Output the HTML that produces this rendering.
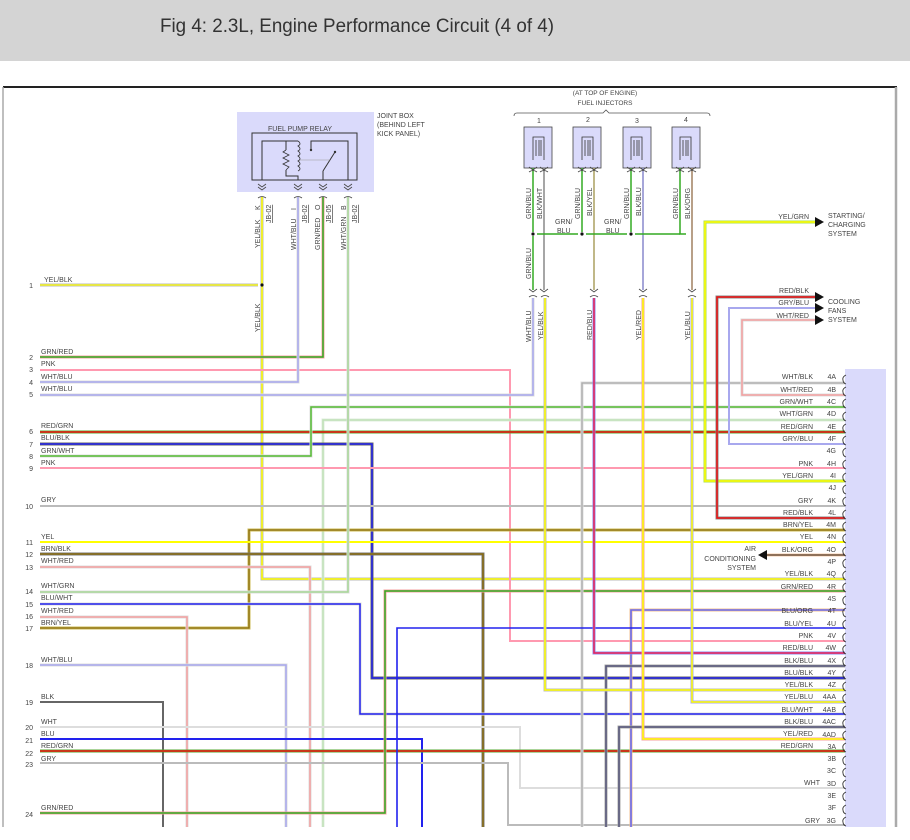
<!DOCTYPE html>
<html><head><meta charset="utf-8"><style>
html,body{margin:0;padding:0;background:#fff;width:910px;height:840px;overflow:hidden}
svg{display:block}
text{font-family:"Liberation Sans",sans-serif;fill:#444}
</style></head><body>
<svg width="910" height="840" viewBox="0 0 910 840" xmlns="http://www.w3.org/2000/svg">
<rect x="0" y="0" width="910" height="61" fill="#d4d4d4"/>
<text x="160" y="32" font-size="19" textLength="394" lengthAdjust="spacingAndGlyphs" style="fill:#333">Fig 4: 2.3L, Engine Performance Circuit (4 of 4)</text>
<line x1="3" y1="87" x2="897" y2="87" stroke="#222" stroke-width="2"/>
<line x1="3" y1="87" x2="3" y2="840" stroke="#aaa" stroke-width="1.5"/>
<line x1="896" y1="87" x2="896" y2="840" stroke="#aaa" stroke-width="2.5"/>

<rect x="845" y="369" width="41" height="471" fill="#dadafb"/>

<rect x="237" y="112" width="137" height="80" fill="#dadafb"/>
<rect x="252" y="133" width="105" height="47" fill="none" stroke="#333" stroke-width="1"/>
<text x="268" y="131" font-size="7">FUEL PUMP RELAY</text>
<polyline points="262,180 262,141 286,141 286,150" fill="none" stroke="#333" stroke-width="1"/>
<polyline points="286,170 286,176 298,176 298,180" fill="none" stroke="#333" stroke-width="1"/>
<path d="M286,150 l-3,2 6,3 -6,3 6,3 -6,3 6,3 -3,3" fill="none" stroke="#333" stroke-width="0.8"/>
<path d="M298,141 q4,3 0,5 q4,3 0,5 q4,3 0,5 q4,3 0,5 q4,3 0,5 q4,3 0,5" fill="none" stroke="#333" stroke-width="0.8"/>
<polyline points="286,141 298,141" stroke="#333"/>
<polyline points="311,150 311,141 348,141 348,180" fill="none" stroke="#333" stroke-width="1"/>
<line x1="323" y1="180" x2="323" y2="171" stroke="#333"/>
<line x1="323" y1="171" x2="335" y2="152" stroke="#333"/>
<line x1="300" y1="160" x2="330" y2="160" stroke="#999" stroke-width="0.5"/>
<circle cx="311" cy="150" r="1.2" fill="#333"/><circle cx="335" cy="152" r="1.2" fill="#333"/>
<text x="377" y="118" font-size="7">JOINT BOX</text>
<text x="377" y="127" font-size="7">(BEHIND LEFT</text>
<text x="377" y="136" font-size="7">KICK PANEL)</text>

<text x="605" y="95" font-size="6.5" text-anchor="middle">(AT TOP OF ENGINE)</text>
<text x="605" y="105" font-size="6.5" text-anchor="middle">FUEL INJECTORS</text>
<path d="M514,116 q0,-3 3,-3 L603,113 l3,-3 3,3 L707,113 q3,0 3,3" fill="none" stroke="#555" stroke-width="0.8"/>
<g font-size="7">
<text x="539" y="123" text-anchor="middle">1</text><text x="588" y="122" text-anchor="middle">2</text>
<text x="637" y="123" text-anchor="middle">3</text><text x="686" y="122" text-anchor="middle">4</text>
</g>
<g fill="#dadafb" stroke="#444" stroke-width="0.8">
<rect x="524" y="127" width="28" height="41"/><rect x="573" y="127" width="28" height="41"/>
<rect x="623" y="127" width="28" height="41"/><rect x="672" y="127" width="28" height="41"/>
</g>
<g fill="none" stroke="#333" stroke-width="0.8">
<path d="M533,160 v-23 h11 v23 M536,140 v16 M539,140 v16 M541,140 v16"/>
<path d="M582,160 v-23 h11 v23 M585,140 v16 M588,140 v16 M590,140 v16"/>
<path d="M631,160 v-23 h11 v23 M634,140 v16 M637,140 v16 M639,140 v16"/>
<path d="M680,160 v-23 h11 v23 M683,140 v16 M686,140 v16 M688,140 v16"/>
</g>

<g fill="none" stroke-linejoin="miter">
<polyline points="533,168 533,232" stroke="#33aa22" stroke-width="1.5"/>
<polyline points="533,236 533,290" stroke="#33aa22" stroke-width="1.5"/>
<polyline points="544,168 544,290" stroke="#888" stroke-width="1.5"/>
<polyline points="582,168 582,232" stroke="#33aa22" stroke-width="1.5"/>
<polyline points="594,168 594,290" stroke="#aaa060" stroke-width="1.5"/>
<polyline points="631,168 631,232" stroke="#33aa22" stroke-width="1.5"/>
<polyline points="643,168 643,290" stroke="#8888cc" stroke-width="1.5"/>
<polyline points="680,168 680,234 686,234" stroke="#33aa22" stroke-width="1.5"/>
<polyline points="692,168 692,290" stroke="#a08060" stroke-width="1.5"/>
<line x1="537" y1="234" x2="578" y2="234" stroke="#33aa22" stroke-width="1.5"/>
<line x1="586" y1="234" x2="627" y2="234" stroke="#33aa22" stroke-width="1.5"/>
<line x1="635" y1="234" x2="680" y2="234" stroke="#33aa22" stroke-width="1.5"/>

<polyline points="262,197 262,579 845,579" stroke="#bbb" stroke-width="3"/>
<polyline points="262,197 262,579 845,579" stroke="#ffff00" stroke-width="1.5"/>
<polyline points="40,285 258,285" stroke="#bbb" stroke-width="3"/>
<polyline points="40,285 258,285" stroke="#ffff00" stroke-width="1.3"/>
<polyline points="40,357 323,357 323,197" stroke="#f4a0a0" stroke-width="3"/>
<polyline points="40,357 323,357 323,197" stroke="#33aa22" stroke-width="1.5"/>
<polyline points="40,370 510,370 510,641 845,641" stroke="#ff99b0" stroke-width="2"/>
<polyline points="40,382 298,382 298,197" stroke="#ddd" stroke-width="3"/>
<polyline points="40,382 298,382 298,197" stroke="#a8a8ee" stroke-width="1.5"/>
<polyline points="40,395 533,395 533,298" stroke="#ddd" stroke-width="3"/>
<polyline points="40,395 533,395 533,298" stroke="#a8a8ee" stroke-width="1.5"/>
<polyline points="845,420 323,420 323,840" stroke="#dfeedd" stroke-width="3"/>
<polyline points="845,420 323,420 323,840" stroke="#c0e0b8" stroke-width="1.5"/>
<polyline points="40,432 845,432" stroke="#55aa33" stroke-width="3"/>
<polyline points="40,432 845,432" stroke="#ee1111" stroke-width="1.5"/>
<polyline points="40,444 372,444 372,678 845,678" stroke="#666" stroke-width="3"/>
<polyline points="40,444 372,444 372,678 845,678" stroke="#2222ee" stroke-width="1.5"/>
<polyline points="40,456 311,456 311,407 845,407" stroke="#ddd" stroke-width="3"/>
<polyline points="40,456 311,456 311,407 845,407" stroke="#55bb33" stroke-width="1.5"/>
<polyline points="40,468 845,468" stroke="#ff99b0" stroke-width="2"/>
<polyline points="40,506 845,506" stroke="#bbb" stroke-width="2"/>
<polyline points="845,530 249,530 249,628 40,628" stroke="#ccbb55" stroke-width="3"/>
<polyline points="845,530 249,530 249,628 40,628" stroke="#8a6d10" stroke-width="1.3"/>
<polyline points="40,542 845,542" stroke="#ffff00" stroke-width="2"/>
<polyline points="40,554 483,554 483,840" stroke="#777" stroke-width="3"/>
<polyline points="40,554 483,554 483,840" stroke="#8a6d10" stroke-width="1.5"/>
<polyline points="40,567 310,567 310,840" stroke="#ddd" stroke-width="3"/>
<polyline points="40,567 310,567 310,840" stroke="#f4a0a0" stroke-width="1.5"/>
<polyline points="40,592 348,592 348,197" stroke="#ddd" stroke-width="3"/>
<polyline points="40,592 348,592 348,197" stroke="#a8d898" stroke-width="1.5"/>
<polyline points="40,604 360,604 360,714 845,714" stroke="#ddd" stroke-width="3"/>
<polyline points="40,604 360,604 360,714 845,714" stroke="#2222ee" stroke-width="1.5"/>
<polyline points="40,617 187,617 187,840" stroke="#ddd" stroke-width="3"/>
<polyline points="40,617 187,617 187,840" stroke="#f4a0a0" stroke-width="1.5"/>
<polyline points="40,665 286,665 286,840" stroke="#ddd" stroke-width="3"/>
<polyline points="40,665 286,665 286,840" stroke="#a8a8ee" stroke-width="1.5"/>
<polyline points="40,702 163,702 163,840" stroke="#666" stroke-width="2"/>
<polyline points="40,727 520,727 520,788 845,788" stroke="#ddd" stroke-width="2"/>
<polyline points="40,739 422,739 422,840" stroke="#2222ee" stroke-width="2"/>
<polyline points="40,751 845,751" stroke="#55aa33" stroke-width="3"/>
<polyline points="40,751 845,751" stroke="#ee1111" stroke-width="1.5"/>
<polyline points="40,763 508,763 508,825 845,825" stroke="#bbb" stroke-width="2"/>
<polyline points="40,813 385,813 385,591 845,591" stroke="#f4a0a0" stroke-width="3"/>
<polyline points="40,813 385,813 385,591 845,591" stroke="#33aa22" stroke-width="1.5"/>
<polyline points="845,383 582,383 582,840" stroke="#ddd" stroke-width="3"/>
<polyline points="845,383 582,383 582,840" stroke="#aaa" stroke-width="1.3"/>
<polyline points="845,395 742,395 742,320 815,320" stroke="#ddd" stroke-width="3"/>
<polyline points="845,395 742,395 742,320 815,320" stroke="#f4a0a0" stroke-width="1.5"/>
<polyline points="845,444 729,444 729,308 815,308" stroke="#a8a8ee" stroke-width="2"/>
<polyline points="845,481 705,481 705,222 815,222" stroke="#aadd55" stroke-width="3"/>
<polyline points="845,481 705,481 705,222 815,222" stroke="#ffff00" stroke-width="1.5"/>
<polyline points="845,518 717,518 717,297 815,297" stroke="#888" stroke-width="3"/>
<polyline points="845,518 717,518 717,297 815,297" stroke="#ee1111" stroke-width="1.5"/>
<polyline points="845,555 765,555" stroke="#f0a060" stroke-width="2.5"/>
<polyline points="845,555 765,555" stroke="#555" stroke-width="1.2"/>
<polyline points="845,610 631,610 631,840" stroke="#f0c090" stroke-width="3"/>
<polyline points="845,610 631,610 631,840" stroke="#6a6aee" stroke-width="1.6"/>
<polyline points="845,628 397,628 397,840" stroke="#2222ee" stroke-width="1.6"/>
<polyline points="845,653 594,653 594,298" stroke="#8888ee" stroke-width="3"/>
<polyline points="845,653 594,653 594,298" stroke="#ee2255" stroke-width="1.5"/>
<polyline points="845,666 606,666 606,840" stroke="#aaa" stroke-width="3"/>
<polyline points="845,666 606,666 606,840" stroke="#55557a" stroke-width="1.5"/>
<polyline points="845,690 545,690 545,298" stroke="#bbb" stroke-width="3"/>
<polyline points="845,690 545,690 545,298" stroke="#ffff00" stroke-width="1.5"/>
<polyline points="845,702 692,702 692,298" stroke="#a8a8ee" stroke-width="3"/>
<polyline points="845,702 692,702 692,298" stroke="#ffff00" stroke-width="1.5"/>
<polyline points="845,727 619,727 619,840" stroke="#aaa" stroke-width="3"/>
<polyline points="845,727 619,727 619,840" stroke="#55557a" stroke-width="1.5"/>
<polyline points="845,739 643,739 643,298" stroke="#f4a0a0" stroke-width="3"/>
<polyline points="845,739 643,739 643,298" stroke="#ffff00" stroke-width="1.5"/>
</g>

<g fill="#111">
<circle cx="262" cy="285" r="1.6"/><circle cx="533" cy="234" r="1.6"/>
<circle cx="582" cy="234" r="1.6"/><circle cx="631" cy="234" r="1.6"/>
</g>
<g fill="none" stroke="#444" stroke-width="0.8">
<path d="M258,184 l4,3 4,-3 M258,187 l4,3 4,-3 M294,184 l4,3 4,-3 M294,187 l4,3 4,-3 M319,184 l4,3 4,-3 M319,187 l4,3 4,-3 M344,184 l4,3 4,-3 M344,187 l4,3 4,-3"/>
<path d="M258,198 q4,-3 8,0 M294,198 q4,-3 8,0 M319,198 q4,-3 8,0 M344,198 q4,-3 8,0"/>
<path d="M529,167 l4,3 4,-3 M540,167 l4,3 4,-3 M578,167 l4,3 4,-3 M590,167 l4,3 4,-3 M627,167 l4,3 4,-3 M639,167 l4,3 4,-3 M676,167 l4,3 4,-3 M688,167 l4,3 4,-3"/>
<path d="M529,172 q4,-3 8,0 M540,172 q4,-3 8,0 M578,172 q4,-3 8,0 M590,172 q4,-3 8,0 M627,172 q4,-3 8,0 M639,172 q4,-3 8,0 M676,172 q4,-3 8,0 M688,172 q4,-3 8,0"/>
<path d="M529,289 l4,3 4,-3 M540,289 l4,3 4,-3 M590,289 l4,3 4,-3 M639,289 l4,3 4,-3 M688,289 l4,3 4,-3"/>
<path d="M529,297 q4,-3 8,0 M541,297 q4,-3 8,0 M590,297 q4,-3 8,0 M639,297 q4,-3 8,0 M688,297 q4,-3 8,0"/>
</g>
<g fill="#111">
<polygon points="815,217 824,222 815,227"/>
<polygon points="815,292 824,297 815,302"/>
<polygon points="815,303 824,308 815,313"/>
<polygon points="815,315 824,320 815,325"/>
<polygon points="767,550 758,555 767,560"/>
</g>
<g font-size="7">
<text x="828" y="218">STARTING/</text><text x="828" y="227">CHARGING</text><text x="828" y="236">SYSTEM</text>
<text x="828" y="304">COOLING</text><text x="828" y="313">FANS</text><text x="828" y="322">SYSTEM</text>
<text x="809" y="219" text-anchor="end">YEL/GRN</text>
<text x="809" y="293" text-anchor="end">RED/BLK</text>
<text x="809" y="305" text-anchor="end">GRY/BLU</text>
<text x="809" y="318" text-anchor="end">WHT/RED</text>
<text x="756" y="551" text-anchor="end">AIR</text>
<text x="756" y="561" text-anchor="end">CONDITIONING</text>
<text x="756" y="570" text-anchor="end">SYSTEM</text>
</g>

<g fill="none" stroke="#333" stroke-width="0.9">
<path d="M846,375 q-4,2 -3,5 q0,3 3,4 M846,387 q-4,2 -3,5 q0,3 3,4 M846,399 q-4,2 -3,5 q0,3 3,4 M846,412 q-4,2 -3,5 q0,3 3,4 M846,424 q-4,2 -3,5 q0,3 3,4 M846,436 q-4,2 -3,5 q0,3 3,4 M846,448 q-4,2 -3,5 q0,3 3,4 M846,460 q-4,2 -3,5 q0,3 3,4 M846,473 q-4,2 -3,5 q0,3 3,4 M846,485 q-4,2 -3,5 q0,3 3,4 M846,497 q-4,2 -3,5 q0,3 3,4 M846,510 q-4,2 -3,5 q0,3 3,4 M846,522 q-4,2 -3,5 q0,3 3,4 M846,534 q-4,2 -3,5 q0,3 3,4 M846,547 q-4,2 -3,5 q0,3 3,4 M846,559 q-4,2 -3,5 q0,3 3,4 M846,571 q-4,2 -3,5 q0,3 3,4 M846,583 q-4,2 -3,5 q0,3 3,4 M846,596 q-4,2 -3,5 q0,3 3,4 M846,608 q-4,2 -3,5 q0,3 3,4 M846,620 q-4,2 -3,5 q0,3 3,4 M846,633 q-4,2 -3,5 q0,3 3,4 M846,645 q-4,2 -3,5 q0,3 3,4 M846,657 q-4,2 -3,5 q0,3 3,4 M846,670 q-4,2 -3,5 q0,3 3,4 M846,682 q-4,2 -3,5 q0,3 3,4 M846,694 q-4,2 -3,5 q0,3 3,4 M846,706 q-4,2 -3,5 q0,3 3,4 M846,719 q-4,2 -3,5 q0,3 3,4 M846,731 q-4,2 -3,5 q0,3 3,4 M846,743 q-4,2 -3,5 q0,3 3,4 M846,756 q-4,2 -3,5 q0,3 3,4 M846,768 q-4,2 -3,5 q0,3 3,4 M846,780 q-4,2 -3,5 q0,3 3,4 M846,792 q-4,2 -3,5 q0,3 3,4 M846,805 q-4,2 -3,5 q0,3 3,4 M846,817 q-4,2 -3,5 q0,3 3,4"/>
</g>

<g font-size="7">
<g text-anchor="end">
<text x="813" y="379">WHT/BLK</text><text x="813" y="392">WHT/RED</text><text x="813" y="404">GRN/WHT</text>
<text x="813" y="416">WHT/GRN</text><text x="813" y="429">RED/GRN</text><text x="813" y="441">GRY/BLU</text>
<text x="813" y="466">PNK</text><text x="813" y="478">YEL/GRN</text>
<text x="813" y="503">GRY</text><text x="813" y="515">RED/BLK</text><text x="813" y="527">BRN/YEL</text>
<text x="813" y="539">YEL</text><text x="813" y="552">BLK/ORG</text><text x="813" y="576">YEL/BLK</text>
<text x="813" y="589">GRN/RED</text><text x="813" y="613">BLU/ORG</text><text x="813" y="626">BLU/YEL</text>
<text x="813" y="638">PNK</text><text x="813" y="650">RED/BLU</text><text x="813" y="663">BLK/BLU</text>
<text x="813" y="675">BLU/BLK</text><text x="813" y="687">YEL/BLK</text><text x="813" y="699">YEL/BLU</text>
<text x="813" y="712">BLU/WHT</text><text x="813" y="724">BLK/BLU</text><text x="813" y="736">YEL/RED</text>
<text x="813" y="748">RED/GRN</text><text x="820" y="785">WHT</text><text x="820" y="823">GRY</text>
</g>
<g text-anchor="end">
<text x="836" y="379">4A</text><text x="836" y="392">4B</text><text x="836" y="404">4C</text>
<text x="836" y="416">4D</text><text x="836" y="429">4E</text><text x="836" y="441">4F</text>
<text x="836" y="453">4G</text><text x="836" y="466">4H</text><text x="836" y="478">4I</text>
<text x="836" y="490">4J</text><text x="836" y="503">4K</text><text x="836" y="515">4L</text>
<text x="836" y="527">4M</text><text x="836" y="539">4N</text><text x="836" y="552">4O</text>
<text x="836" y="564">4P</text><text x="836" y="576">4Q</text><text x="836" y="589">4R</text>
<text x="836" y="601">4S</text><text x="836" y="613">4T</text><text x="836" y="626">4U</text>
<text x="836" y="638">4V</text><text x="836" y="650">4W</text><text x="836" y="663">4X</text>
<text x="836" y="675">4Y</text><text x="836" y="687">4Z</text><text x="836" y="699">4AA</text>
<text x="836" y="712">4AB</text><text x="836" y="724">4AC</text><text x="836" y="737">4AD</text>
<text x="836" y="749">3A</text><text x="836" y="761">3B</text><text x="836" y="773">3C</text>
<text x="836" y="786">3D</text><text x="836" y="798">3E</text><text x="836" y="810">3F</text>
<text x="836" y="823">3G</text>
</g>
</g>

<g font-size="7">
<g text-anchor="end">
<text x="33" y="288">1</text><text x="33" y="360">2</text><text x="33" y="372">3</text>
<text x="33" y="385">4</text><text x="33" y="397">5</text><text x="33" y="434">6</text>
<text x="33" y="447">7</text><text x="33" y="459">8</text><text x="33" y="471">9</text>
<text x="33" y="509">10</text><text x="33" y="545">11</text><text x="33" y="557">12</text>
<text x="33" y="570">13</text><text x="33" y="594">14</text><text x="33" y="607">15</text>
<text x="33" y="619">16</text><text x="33" y="631">17</text><text x="33" y="668">18</text>
<text x="33" y="705">19</text><text x="33" y="730">20</text><text x="33" y="743">21</text>
<text x="33" y="756">22</text><text x="33" y="767">23</text><text x="33" y="817">24</text>
</g>
<text x="44" y="282">YEL/BLK</text><text x="41" y="354">GRN/RED</text><text x="41" y="366">PNK</text>
<text x="41" y="379">WHT/BLU</text><text x="41" y="391">WHT/BLU</text><text x="41" y="428">RED/GRN</text>
<text x="41" y="440">BLU/BLK</text><text x="41" y="453">GRN/WHT</text><text x="41" y="465">PNK</text>
<text x="41" y="502">GRY</text><text x="41" y="539">YEL</text><text x="41" y="551">BRN/BLK</text>
<text x="41" y="563">WHT/RED</text><text x="41" y="588">WHT/GRN</text><text x="41" y="600">BLU/WHT</text>
<text x="41" y="613">WHT/RED</text><text x="41" y="625">BRN/YEL</text><text x="41" y="662">WHT/BLU</text>
<text x="41" y="699">BLK</text><text x="41" y="724">WHT</text><text x="41" y="736">BLU</text>
<text x="41" y="748">RED/GRN</text><text x="41" y="761">GRY</text><text x="41" y="810">GRN/RED</text>
</g>

<g font-size="7">
<text transform="translate(260,248) rotate(-90)">YEL/BLK</text>
<text transform="translate(260,210) rotate(-90)">K</text>
<text transform="translate(271,223) rotate(-90)" text-decoration="underline">JB-02</text>
<text transform="translate(296,250) rotate(-90)">WHT/BLU</text>
<text transform="translate(296,210) rotate(-90)">I</text>
<text transform="translate(307,223) rotate(-90)" text-decoration="underline">JB-02</text>
<text transform="translate(320,250) rotate(-90)">GRN/RED</text>
<text transform="translate(320,210) rotate(-90)">O</text>
<text transform="translate(331,223) rotate(-90)" text-decoration="underline">JB-05</text>
<text transform="translate(346,250) rotate(-90)">WHT/GRN</text>
<text transform="translate(346,210) rotate(-90)">B</text>
<text transform="translate(357,223) rotate(-90)" text-decoration="underline">JB-02</text>
<text transform="translate(260,332) rotate(-90)">YEL/BLK</text>

<text transform="translate(531,219) rotate(-90)">GRN/BLU</text>
<text transform="translate(542,219) rotate(-90)">BLK/WHT</text>
<text transform="translate(580,219) rotate(-90)">GRN/BLU</text>
<text transform="translate(592,216) rotate(-90)">BLK/YEL</text>
<text transform="translate(629,219) rotate(-90)">GRN/BLU</text>
<text transform="translate(641,216) rotate(-90)">BLK/BLU</text>
<text transform="translate(678,219) rotate(-90)">GRN/BLU</text>
<text transform="translate(690,219) rotate(-90)">BLK/ORG</text>
<text transform="translate(531,279) rotate(-90)">GRN/BLU</text>
<text x="555" y="224">GRN/</text><text x="557" y="233">BLU</text>
<text x="604" y="224">GRN/</text><text x="606" y="233">BLU</text>

<text transform="translate(531,342) rotate(-90)">WHT/BLU</text>
<text transform="translate(543,340) rotate(-90)">YEL/BLK</text>
<text transform="translate(592,340) rotate(-90)">RED/BLU</text>
<text transform="translate(641,340) rotate(-90)">YEL/RED</text>
<text transform="translate(690,340) rotate(-90)">YEL/BLU</text>
</g>
<rect x="0" y="827" width="910" height="13" fill="#fff"/>
</svg>
</body></html>
